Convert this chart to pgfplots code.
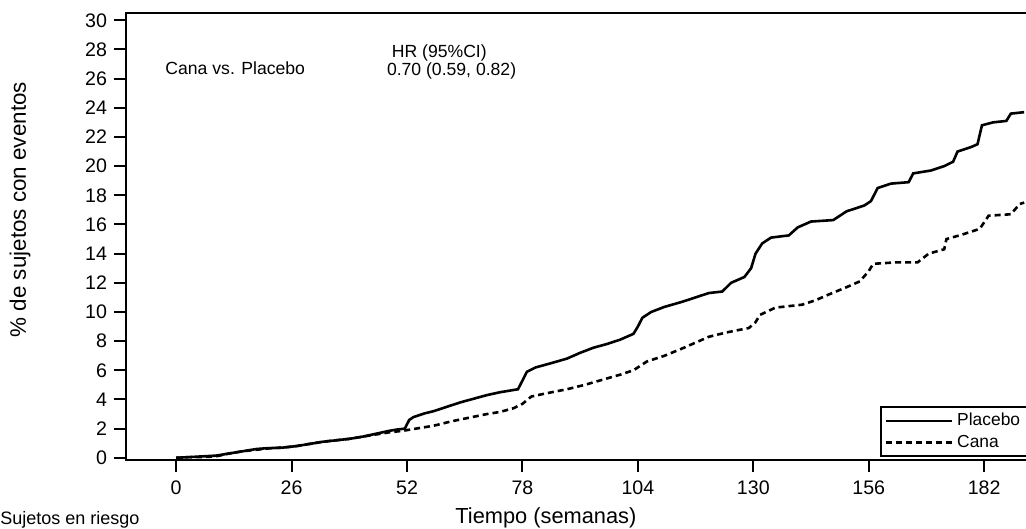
\documentclass[border=0pt]{standalone}
\usepackage{fontspec}
\setmainfont{Liberation Sans}
\usepackage{pgfplots}
\pgfplotsset{compat=1.18}

\begin{document}
\begin{tikzpicture}
\begin{axis}[
	width=453.5pt, height=223.5pt,
	scale only axis,
	xmin=-11.3, xmax=193,
	ymin=-0.15, ymax=30.5,
	xtick={0,26,52,78,104,130,156,182},
	ytick={0,2,...,30},
	xtick pos=bottom, ytick pos=left,
	tick align=outside,
	major tick length=6pt,
	tick style={line width=1pt, black},
	axis line style={line width=1.2pt},
	tick label style={font=\fontsize{9.8}{11}\selectfont},
	xticklabel style={yshift=-1pt},
	/pgf/number format/assume math mode=true,
	every axis y label/.style={at={(rel axis cs:-0.1169,0.56)}, rotate=90, anchor=center},
	every axis x label/.style={at={(rel axis cs:0.463,-0.1298)}, anchor=center},
	ylabel={\fontsize{11.2}{12}\selectfont \% de sujetos con eventos},
	xlabel={\fontsize{10.9}{12}\selectfont Tiempo (semanas)},
	clip=false,
	legend style={at={(rel axis cs:1,0)}, anchor=south east, xshift=-2pt, yshift=1.5pt,
		draw=black, line width=0.9pt, font=\fontsize{8.7}{9.5}\selectfont,
		inner xsep=2pt, inner ysep=1pt, row sep=-1pt, cells={anchor=west}},
	legend image code/.code={\draw[#1] (0pt,0pt) -- (33pt,0pt);},
	]

% Placebo
\addplot[black, line width=1.3pt] coordinates {
(0,0) (3,0.05) (6,0.1) (9,0.15) (12,0.3) (15,0.45) (18,0.6) (20,0.65) (24,0.7)
(27,0.8) (30,0.95) (33,1.1) (36,1.2) (39,1.3) (42,1.45) (45,1.65) (48,1.85) (50,1.95)
(51.5,2.0) (52.5,2.6) (53.5,2.8) (56,3.05) (58,3.2) (61,3.5) (64,3.8) (67,4.05)
(70,4.3) (73,4.5) (76,4.65) (77,4.7) (78,5.3) (79,5.9) (81,6.2) (84,6.45) (88,6.8)
(91,7.2) (94,7.55) (97,7.8) (100,8.1) (103,8.5) (104,9.0) (105,9.6) (107,10.0)
(110,10.35) (114,10.7) (117,11.0) (120,11.3) (123,11.4) (125,12.0) (128,12.4)
(129.5,13.0) (130.5,14.0) (132,14.7) (134,15.1) (138,15.25) (140,15.8) (143,16.2)
(148,16.3) (151,16.9) (155,17.3) (156.5,17.6) (158,18.5) (161,18.8) (165,18.9)
(166,19.5) (170,19.7) (173,20.0) (175,20.3) (176,21.0) (179,21.3) (180.5,21.5)
(181.5,22.8) (184,23.0) (187,23.1) (188,23.6) (191,23.7)};
\addlegendentry{Placebo}

% Cana
\addplot[black, line width=1.3pt, dash pattern=on 3pt off 2pt] coordinates {
(0,0) (3,0.05) (6,0.05) (9,0.1) (12,0.3) (15,0.45) (18,0.55) (21,0.65) (24,0.7)
(27,0.8) (30,0.95) (33,1.1) (36,1.2) (39,1.3) (42,1.45) (45,1.6) (48,1.75) (51,1.85)
(54,2.0) (58,2.2) (62,2.5) (66,2.75) (70,3.0) (73,3.15) (76,3.4) (78,3.7) (80,4.2)
(83,4.4) (88,4.7) (92,5.0) (96,5.35) (100,5.7) (103,6.0) (106,6.6) (110,7.0)
(114,7.5) (117,7.9) (120,8.3) (124,8.6) (129,8.9) (130.5,9.3) (131.5,9.8) (135,10.3)
(141,10.5) (144,10.8) (147,11.2) (151,11.7) (154,12.1) (156,12.8) (157,13.3)
(162,13.4) (167,13.4) (169.5,14.0) (173,14.3) (173.5,15.0) (177,15.3) (181,15.7)
(183,16.6) (188,16.7) (190,17.4) (191,17.5)};
\addlegendentry{Cana}

\node[anchor=west, inner sep=0pt, font=\fontsize{8.8}{10}\selectfont] at (axis cs:-2.5,26.7) {Cana vs. Placebo};
\node[anchor=west, inner sep=0pt, font=\fontsize{8.8}{10}\selectfont] at (axis cs:48.5,27.75) {HR (95\%CI)};
\node[anchor=west, inner sep=0pt, font=\fontsize{8.8}{10}\selectfont] at (axis cs:47.4,26.55) {0.70 (0.59, 0.82)};
\node[anchor=south west, inner sep=0pt, font=\fontsize{9}{10}\selectfont] at (rel axis cs:-0.1389,-0.1525) {Sujetos en riesgo};

\end{axis}
\pgfresetboundingbox
\useasboundingbox (-63pt,-34.5pt) rectangle (450pt,230pt);
\end{tikzpicture}
\end{document}
